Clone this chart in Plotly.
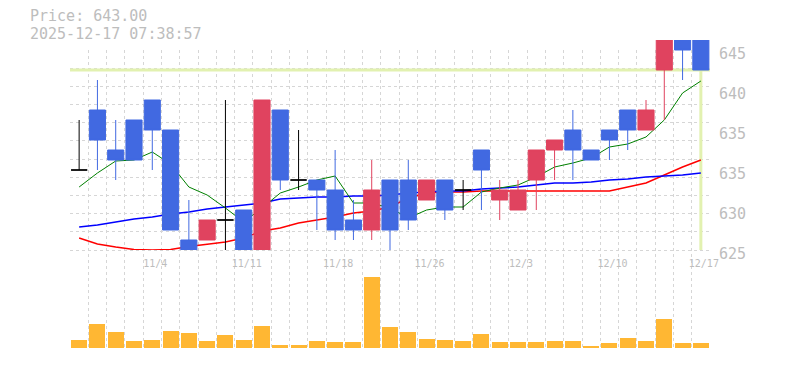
import plotly.graph_objects as go

# ---------------- data ----------------
dates = ["10/28", "10/29", "10/30", "10/31", "11/4", "11/5", "11/6", "11/7", "11/10",
         "11/11", "11/12", "11/13", "11/14", "11/17", "11/18", "11/19", "11/20", "11/21",
         "11/25", "11/26", "11/27", "11/28", "12/1", "12/2", "12/3", "12/4", "12/5",
         "12/8", "12/9", "12/10", "12/11", "12/12", "12/15", "12/16", "12/17"]
opens = [633, 639, 635, 638, 640, 637, 626, 626, 628, 629, 624, 639, 632, 632, 631, 628,
         627, 632, 632, 630, 632, 631, 635, 630, 629, 632, 635, 637, 635, 637, 639, 637,
         643, 649, 648]
highs = [638, 642, 638, 638, 640, 637, 630, 628, 640, 629, 640, 639, 637, 632, 635, 630,
         634, 632, 634, 632, 632, 632, 635, 632, 632, 635, 636, 639, 635, 637, 639, 640,
         649, 650, 648]
lows = [633, 633, 632, 634, 633, 627, 623, 626, 623, 623, 623, 631, 631, 627, 626, 626,
        626, 624, 627, 630, 628, 629, 629, 628, 629, 629, 632, 632, 634, 634, 635, 637,
        638, 642, 643]
closes = [633, 636, 634, 634, 637, 627, 624, 628, 628, 624, 640, 632, 632, 631, 627, 627,
          631, 627, 628, 632, 629, 631, 633, 631, 631, 635, 636, 635, 634, 636, 637, 639,
          648, 645, 643]
volumes = [8000, 24000, 16000, 7000, 8000, 17000, 15000, 7000, 13000, 8000, 22000, 3000,
           3000, 7000, 6000, 6000, 71000, 21000, 16000, 9000, 8000, 7000, 14000, 6000,
           6000, 6000, 7000, 7000, 2000, 5000, 10000, 7000, 29000, 5000, 5000]
ma_short = [631.3, 632.7, 633.9, 634.0, 634.8, 633.6, 631.3, 630.5, 629.2, 627.8, 629.2,
            630.7, 631.3, 632.0, 632.4, 629.7, 629.7, 629.2, 628.2, 629.0, 629.3, 629.3,
            630.8, 631.2, 631.5, 632.3, 633.3, 633.7, 634.2, 635.3, 635.6, 636.3, 638.0,
            640.7, 641.9]
ma_mid = [627.3, 627.5, 627.8, 628.1, 628.3, 628.6, 628.8, 629.1, 629.3, 629.5, 629.7,
          630.1, 630.2, 630.3, 630.3, 630.4, 630.4, 630.5, 630.7, 630.8, 630.9, 630.9,
          631.1, 631.2, 631.3, 631.5, 631.7, 631.7, 631.8, 632.0, 632.1, 632.3, 632.4,
          632.5, 632.7]
ma_long = [626.2, 625.6, 625.3, 625.05, 625.0, 625.05, 625.35, 625.6, 625.8, 626.2, 626.9,
           627.2, 627.7, 628.0, 628.3, 628.7, 628.9, 629.3, 630.2, 630.7, 630.8, 630.8,
           630.9, 630.9, 630.9, 630.9, 630.9, 630.9, 630.9, 630.9, 631.3, 631.7, 632.5,
           633.3, 634.0]
tick_dates = ["11/4", "11/11", "11/18", "11/26", "12/3", "12/10", "12/17"]
price_tickvals = [625, 629, 633, 637, 641, 645]
price_ticktext = ["625", "630", "635", "635", "640", "645"]
timestamp = "2025-12-17 07:38:57"

# ---------------- style ----------------
GRAY = "#bdbdbd"
GRID = "#d6d6d6"
MONO = "DejaVu Sans Mono"
RED = "#e0435f"
BLUE = "#4169e1"
VOLC = "#ffb733"
CUR = "#e2f1b0"

n = len(dates)
idx = list(range(n))
x_range = [-0.5, n - 0.5]
p_lo, p_top = 625, 646
grid_levels = [625 + i * 20 / 11 for i in range(12)]
plot_h = 310
price_dom = [100 / plot_h, 1]
vol_dom = [0, 100 / plot_h]

fig = go.Figure()

# grid carrier subplot (x, y)
fig.add_trace(go.Scatter(x=[], y=[], xaxis="x", yaxis="y", showlegend=False, hoverinfo="skip"))

# current price cross lines (from the last close)
last = closes[-1]
fig.add_trace(go.Scatter(x=[x_range[0], x_range[1]], y=[last, last], mode="lines",
                         line=dict(color=CUR, width=3), xaxis="x2", yaxis="y2", zorder=-1,
                         showlegend=False, hoverinfo="skip"))
fig.add_trace(go.Scatter(x=[idx[-1], idx[-1]], y=[p_lo, last], mode="lines",
                         line=dict(color=CUR, width=3), xaxis="x2", yaxis="y2", zorder=-1,
                         showlegend=False, hoverinfo="skip"))

for ma, color, w in [(ma_long, "#ff0000", 1.5), (ma_mid, "#0000ff", 1.5), (ma_short, "#008000", 1)]:
    fig.add_trace(go.Scatter(x=idx, y=ma, mode="lines", line=dict(color=color, width=w),
                             xaxis="x2", yaxis="y2", zorder=0, showlegend=False, hoverinfo="skip"))


def candles(sel, color):
    return go.Candlestick(
        x=sel,
        open=[opens[i] for i in sel], high=[highs[i] for i in sel],
        low=[lows[i] for i in sel], close=[closes[i] for i in sel],
        increasing=dict(line=dict(color=color, width=1), fillcolor=color),
        decreasing=dict(line=dict(color=color, width=1), fillcolor=color),
        whiskerwidth=0, xaxis="x2", yaxis="y2", zorder=1, showlegend=False,
    )


up = [i for i in idx if closes[i] > opens[i]]
down = [i for i in idx if closes[i] < opens[i]]
flat = [i for i in idx if closes[i] == opens[i]]
fig.add_trace(candles(up, RED))
fig.add_trace(candles(down, BLUE))
fig.add_trace(candles(flat, "#000000"))

fig.add_trace(go.Bar(x=idx, y=volumes, marker=dict(color=VOLC, line=dict(width=0)), width=0.875,
                     xaxis="x3", yaxis="y3", showlegend=False, hoverinfo="skip"))

fig.add_annotation(text=f"Price: {last:.2f}", xref="paper", yref="paper",
                   x=-41 / 640, y=(350 - 16) / plot_h, xanchor="left", yanchor="middle",
                   showarrow=False, borderpad=0, font=dict(family=MONO, size=15, color=GRAY))
fig.add_annotation(text=timestamp, xref="paper", yref="paper",
                   x=-41 / 640, y=(350 - 34) / plot_h, xanchor="left", yanchor="middle",
                   showarrow=False, borderpad=0, font=dict(family=MONO, size=15, color=GRAY))

fig.update_layout(
    width=785, height=370,
    margin=dict(l=70, r=75, t=40, b=20, autoexpand=False),
    paper_bgcolor="white", plot_bgcolor="rgba(0,0,0,0)",
    showlegend=False, boxgap=0.12, boxgroupgap=0, bargap=0,
    font=dict(family=MONO, color=GRAY),
    xaxis=dict(domain=[0, 1], anchor="y", range=x_range, automargin=False,
               tickvals=[i - 0.5 for i in range(n + 1)], showticklabels=False, ticks="",
               showgrid=True, gridcolor=GRID, griddash="3px,3px", gridwidth=1,
               zeroline=False, showline=True, linecolor=GRAY, linewidth=1.5),
    yaxis=dict(domain=[0, 300 / plot_h], anchor="x", range=[615, 645], side="right",
               automargin=False,
               tickvals=grid_levels, showticklabels=False, ticks="",
               showgrid=True, gridcolor=GRID, griddash="3px,3px", gridwidth=1,
               zeroline=False, showline=True, linecolor=GRAY, linewidth=1.5),
    xaxis2=dict(domain=[0, 1], anchor="y2", range=x_range, automargin=False,
                tickvals=[dates.index(d) for d in tick_dates], ticktext=tick_dates,
                tickfont=dict(family=MONO, size=10, color=GRAY), ticks="",
                ticklabelshift=3, ticklabelstandoff=3,
                showgrid=False, zeroline=False, showline=True, linecolor=GRAY, linewidth=1.5,
                rangeslider=dict(visible=False)),
    yaxis2=dict(domain=price_dom, anchor="x2", range=[p_lo, p_top], side="right",
                automargin=False,
                tickvals=price_tickvals, ticktext=price_ticktext,
                tickfont=dict(family=MONO, size=15, color=GRAY), ticks="",
                ticklabelshift=4, ticklabelstandoff=8,
                showgrid=False, zeroline=False, showline=False),
    xaxis3=dict(domain=[0, 1], anchor="y3", range=x_range, showticklabels=False, ticks="",
                automargin=False, showgrid=False, zeroline=False, showline=False),
    yaxis3=dict(domain=vol_dom, anchor="x3", range=[-2000, 98000], showticklabels=False,
                automargin=False, ticks="", showgrid=False, zeroline=False, showline=False),
)

fig.write_html("out.html")
